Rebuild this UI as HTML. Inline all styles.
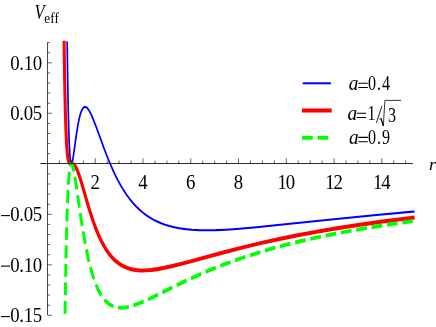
<!DOCTYPE html>
<html><head><meta charset="utf-8"><title>Veff</title>
<style>
html,body{margin:0;padding:0;background:#fff;}
body{width:436px;height:327px;overflow:hidden;}
svg{display:block;will-change:transform;}
text{font-family:"Liberation Serif",serif;fill:#000;}
</style></head><body>
<svg width="436" height="327" viewBox="0 0 436 327">
<g transform="scale(1,1.19)" fill="none" stroke-linejoin="round">
<path d="M67.17,34.79 L67.82,73.95 L68.44,99.84 L69.04,116.46 L69.59,126.64 L70.09,132.56 L70.54,135.70 L70.90,137.12 L71.19,137.64 L71.41,137.73 L71.67,137.54 L72.05,136.77 L72.62,134.79 L73.50,130.41 L76.69,111.36 L77.98,104.77 L79.10,100.07 L80.13,96.60 L81.06,94.12 L81.91,92.41 L82.71,91.22 L83.47,90.45 L84.19,90.02 L84.90,89.85 L85.61,89.92 L86.42,90.24 L87.31,90.89 L88.38,92.00 L89.63,93.68 L91.19,96.26 L93.15,100.05 L95.92,106.05 L104.30,125.32 L108.00,133.31 L111.35,140.00 L114.52,145.83 L117.59,151.02 L120.63,155.68 L123.62,159.86 L126.65,163.71 L129.68,167.18 L132.76,170.35 L135.93,173.28 L139.14,175.94 L142.44,178.36 L145.74,180.51 L149.18,182.49 L152.80,184.30 L156.61,185.96 L160.59,187.44 L164.94,188.80 L169.47,189.97 L174.36,190.99 L179.62,191.84 L185.42,192.54 L191.76,193.05 L198.82,193.38 L206.79,193.50 L215.85,193.38 L226.54,192.98 L239.59,192.24 L256.44,191.00 L282.71,188.75 L341.23,183.54 L376.38,180.63 L410.44,178.05 L414.61,177.75" stroke="#0000ff" stroke-width="1.7"/>
<line x1="302.7" y1="70.00" x2="330.9" y2="70.00" stroke="#0000ff" stroke-width="1.7"/>
</g>
<g transform="scale(1,1.32)" fill="none" stroke-linejoin="round">
<path d="M64.09,30.91 L64.72,62.82 L65.34,84.43 L65.95,98.96 L66.55,108.50 L67.13,114.69 L67.68,118.60 L68.22,121.04 L68.74,122.51 L69.24,123.37 L69.76,123.85 L70.36,124.10 L71.45,124.17 L72.62,124.25 L73.50,124.55 L74.38,125.11 L75.33,126.04 L76.38,127.45 L77.63,129.58 L79.19,132.80 L81.29,137.80 L88.65,156.98 L91.59,164.08 L94.22,169.86 L96.72,174.82 L99.13,179.11 L101.49,182.87 L103.86,186.21 L106.22,189.16 L108.63,191.80 L111.04,194.09 L113.49,196.12 L116.03,197.91 L118.67,199.48 L121.39,200.83 L124.24,201.98 L127.27,202.95 L130.49,203.72 L133.97,204.30 L137.76,204.69 L141.90,204.86 L146.46,204.80 L151.54,204.49 L157.51,203.88 L164.58,202.89 L173.46,201.38 L185.96,198.95 L225.09,190.88 L243.94,187.22 L261.69,184.00 L279.45,181.03 L297.75,178.21 L316.77,175.52 L336.88,172.93 L358.08,170.44 L380.73,168.04 L405.00,165.70 L414.61,164.84" stroke="#ff0000" stroke-width="3.07"/>
<path d="M65.06,237.65 L65.24,227.92 M65.33,223.68 L65.54,213.95 M65.63,209.71 L65.87,199.98 M65.98,195.74 L66.26,186.01 M66.39,181.77 L66.72,172.04 M66.87,167.80 L67.29,158.07 M67.49,153.84 L68.06,144.12 M68.37,139.89 L69.02,133.07 L69.39,130.20 M70.21,126.03 L70.66,124.83 L71.04,124.31 L71.36,124.17 L71.38,124.17 M71.38,124.17 L71.71,124.29 L72.15,124.81 L72.74,126.02 L73.52,128.41 L73.91,129.85 M74.89,133.99 L76.74,143.13 L76.82,143.57 M77.61,147.75 L79.43,157.34 M80.24,161.52 L82.17,171.10 M83.06,175.26 L85.17,184.32 L85.28,184.78 M86.34,188.91 L88.29,195.86 L89.05,198.34 M90.39,202.40 L92.26,207.44 L94.01,211.57 M95.90,215.45 L97.70,218.64 L99.53,221.43 L101.37,223.82 M104.44,227.02 L106.35,228.58 L108.32,229.89 L110.37,230.96 L112.51,231.82 L113.51,232.14 M118.10,233.01 L120.81,233.15 L123.75,233.05 L127.05,232.69 L128.84,232.41 M133.41,231.43 L138.25,230.11 L143.67,228.39 M148.06,226.87 L158.05,223.18 M162.38,221.53 L172.33,217.75 M176.67,216.12 L186.68,212.45 M191.05,210.90 L201.15,207.45 M205.56,206.00 L215.76,202.79 M220.22,201.45 L230.51,198.50 M235.01,197.26 L245.38,194.55 M249.91,193.42 L260.35,190.94 M264.91,189.90 L275.41,187.63 M279.99,186.68 L290.54,184.59 M295.14,183.73 L305.73,181.81 M310.35,181.01 L320.97,179.25 M325.60,178.52 L336.24,176.90 M340.88,176.22 L351.56,174.72 M356.20,174.10 L366.89,172.71 M371.55,172.13 L382.26,170.85 M386.92,170.31 L397.64,169.11 M402.30,168.61 L412.86,167.52" stroke="#00ff00" stroke-width="2.95"/>
<line x1="302" y1="83.71" x2="331.7" y2="83.71" stroke="#ff0000" stroke-width="3.07"/>
<line x1="302" y1="104.39" x2="312.8" y2="104.39" stroke="#00ff00" stroke-width="2.95"/>
<line x1="317.5" y1="104.39" x2="328.2" y2="104.39" stroke="#00ff00" stroke-width="2.95"/>
</g>
<g stroke-width="1" fill="none">
<line x1="40.34" y1="163.50" x2="412.86" y2="163.50" stroke="#2e2e2e"/>
<line x1="47.50" y1="42.30" x2="47.50" y2="315.00" stroke="#4a4a4a"/>
</g>
<g stroke="#000" stroke-width="0.6" fill="none">
<line x1="59.44" y1="163.50" x2="59.44" y2="160.50"/>
<line x1="71.38" y1="163.50" x2="71.38" y2="160.50"/>
<line x1="83.32" y1="163.50" x2="83.32" y2="160.50"/>
<line x1="95.26" y1="163.50" x2="95.26" y2="158.40"/>
<line x1="107.20" y1="163.50" x2="107.20" y2="160.50"/>
<line x1="119.14" y1="163.50" x2="119.14" y2="160.50"/>
<line x1="131.08" y1="163.50" x2="131.08" y2="160.50"/>
<line x1="143.02" y1="163.50" x2="143.02" y2="158.40"/>
<line x1="154.96" y1="163.50" x2="154.96" y2="160.50"/>
<line x1="166.90" y1="163.50" x2="166.90" y2="160.50"/>
<line x1="178.84" y1="163.50" x2="178.84" y2="160.50"/>
<line x1="190.78" y1="163.50" x2="190.78" y2="158.40"/>
<line x1="202.72" y1="163.50" x2="202.72" y2="160.50"/>
<line x1="214.66" y1="163.50" x2="214.66" y2="160.50"/>
<line x1="226.60" y1="163.50" x2="226.60" y2="160.50"/>
<line x1="238.54" y1="163.50" x2="238.54" y2="158.40"/>
<line x1="250.48" y1="163.50" x2="250.48" y2="160.50"/>
<line x1="262.42" y1="163.50" x2="262.42" y2="160.50"/>
<line x1="274.36" y1="163.50" x2="274.36" y2="160.50"/>
<line x1="286.30" y1="163.50" x2="286.30" y2="158.40"/>
<line x1="298.24" y1="163.50" x2="298.24" y2="160.50"/>
<line x1="310.18" y1="163.50" x2="310.18" y2="160.50"/>
<line x1="322.12" y1="163.50" x2="322.12" y2="160.50"/>
<line x1="334.06" y1="163.50" x2="334.06" y2="158.40"/>
<line x1="346.00" y1="163.50" x2="346.00" y2="160.50"/>
<line x1="357.94" y1="163.50" x2="357.94" y2="160.50"/>
<line x1="369.88" y1="163.50" x2="369.88" y2="160.50"/>
<line x1="381.82" y1="163.50" x2="381.82" y2="158.40"/>
<line x1="393.76" y1="163.50" x2="393.76" y2="160.50"/>
<line x1="405.70" y1="163.50" x2="405.70" y2="160.50"/>
<line x1="47.50" y1="315.30" x2="51.90" y2="315.30"/>
<line x1="47.50" y1="305.20" x2="50.20" y2="305.20"/>
<line x1="47.50" y1="295.10" x2="50.20" y2="295.10"/>
<line x1="47.50" y1="285.00" x2="50.20" y2="285.00"/>
<line x1="47.50" y1="274.90" x2="50.20" y2="274.90"/>
<line x1="47.50" y1="264.80" x2="51.90" y2="264.80"/>
<line x1="47.50" y1="254.70" x2="50.20" y2="254.70"/>
<line x1="47.50" y1="244.60" x2="50.20" y2="244.60"/>
<line x1="47.50" y1="234.50" x2="50.20" y2="234.50"/>
<line x1="47.50" y1="224.40" x2="50.20" y2="224.40"/>
<line x1="47.50" y1="214.30" x2="51.90" y2="214.30"/>
<line x1="47.50" y1="204.20" x2="50.20" y2="204.20"/>
<line x1="47.50" y1="194.10" x2="50.20" y2="194.10"/>
<line x1="47.50" y1="184.00" x2="50.20" y2="184.00"/>
<line x1="47.50" y1="173.90" x2="50.20" y2="173.90"/>
<line x1="47.50" y1="153.70" x2="50.20" y2="153.70"/>
<line x1="47.50" y1="143.60" x2="50.20" y2="143.60"/>
<line x1="47.50" y1="133.50" x2="50.20" y2="133.50"/>
<line x1="47.50" y1="123.40" x2="50.20" y2="123.40"/>
<line x1="47.50" y1="113.30" x2="51.90" y2="113.30"/>
<line x1="47.50" y1="103.20" x2="50.20" y2="103.20"/>
<line x1="47.50" y1="93.10" x2="50.20" y2="93.10"/>
<line x1="47.50" y1="83.00" x2="50.20" y2="83.00"/>
<line x1="47.50" y1="72.90" x2="50.20" y2="72.90"/>
<line x1="47.50" y1="62.80" x2="51.90" y2="62.80"/>
<line x1="47.50" y1="52.70" x2="50.20" y2="52.70"/>
<line x1="47.50" y1="42.60" x2="50.20" y2="42.60"/>
</g>
<g>
<text transform="translate(95.26,188.80) scale(1.0,1.12)" font-size="18.8" text-anchor="middle">2</text>
<text transform="translate(143.02,188.80) scale(1.0,1.12)" font-size="18.8" text-anchor="middle">4</text>
<text transform="translate(190.78,188.80) scale(1.0,1.12)" font-size="18.8" text-anchor="middle">6</text>
<text transform="translate(238.54,188.80) scale(1.0,1.12)" font-size="18.8" text-anchor="middle">8</text>
<text transform="translate(285.70,188.80) scale(1.0,1.12)" font-size="18.8" text-anchor="middle" letter-spacing="-1.1">10</text>
<text transform="translate(333.46,188.80) scale(1.0,1.12)" font-size="18.8" text-anchor="middle" letter-spacing="-1.1">12</text>
<text transform="translate(381.22,188.80) scale(1.0,1.12)" font-size="18.8" text-anchor="middle" letter-spacing="-1.1">14</text>
<text transform="translate(41.80,69.60) scale(1.0,1.17)" font-size="18.8" text-anchor="end" letter-spacing="-0.35">0.10</text>
<text transform="translate(41.80,120.10) scale(1.0,1.17)" font-size="18.8" text-anchor="end" letter-spacing="-0.35">0.05</text>
<text transform="translate(41.80,221.10) scale(1.0,1.17)" font-size="18.8" text-anchor="end" letter-spacing="-0.35">0.05</text>
<line x1="1.0" y1="215.60" x2="10.0" y2="215.60" stroke="#000" stroke-width="1.1"/>
<text transform="translate(41.80,271.60) scale(1.0,1.17)" font-size="18.8" text-anchor="end" letter-spacing="-0.35">0.10</text>
<line x1="1.0" y1="266.10" x2="10.0" y2="266.10" stroke="#000" stroke-width="1.1"/>
<text transform="translate(41.80,322.10) scale(1.0,1.17)" font-size="18.8" text-anchor="end" letter-spacing="-0.35">0.15</text>
<line x1="1.0" y1="316.60" x2="10.0" y2="316.60" stroke="#000" stroke-width="1.1"/>
<text transform="translate(34.60,19.30) scale(1.0,1.22)" font-size="16.6" text-anchor="start" font-style="italic">V</text>
<text transform="translate(44.30,22.60) scale(1.0,1.04)" font-size="13.3" text-anchor="start">eff</text>
<text transform="translate(428.90,170.30) scale(1.0,0.95)" font-size="18.0" text-anchor="start" font-style="italic">r</text>
<text transform="translate(348.80,90.00) scale(1.0,1.054)" font-size="19.3" text-anchor="start" font-style="italic">a</text>
<path d="M358.30,83.20 h9.5 M358.30,87.50 h9.5" stroke="#000" stroke-width="1.1" fill="none"/>
<text transform="translate(368.10,90.00) scale(1.0,1.352)" font-size="16.1" text-anchor="start" letter-spacing="0.95">0.4</text>
<text transform="translate(347.50,120.00) scale(1.0,1.054)" font-size="19.3" text-anchor="start" font-style="italic">a</text>
<path d="M356.60,113.20 h9.5 M356.60,117.50 h9.5" stroke="#000" stroke-width="1.1" fill="none"/>
<text transform="translate(367.60,120.00) scale(1.0,1.352)" font-size="16.1" text-anchor="start" letter-spacing="0.95">1</text>
<line x1="376.4" y1="122.8" x2="381.9" y2="106.2" stroke="#000" stroke-width="0.9"/>
<path d="M379.5,119.3 L381.0,118.3" fill="none" stroke="#000" stroke-width="0.8"/>
<path d="M380.9,118.2 L383.3,125.8" fill="none" stroke="#000" stroke-width="1.25"/>
<path d="M383.3,126.2 L384.9,100.4 L401.2,100.4" fill="none" stroke="#000" stroke-width="0.8"/>
<text transform="translate(387.90,121.80) scale(1.0,1.352)" font-size="16.1" text-anchor="start">3</text>
<text transform="translate(349.00,144.20) scale(1.0,1.054)" font-size="19.3" text-anchor="start" font-style="italic">a</text>
<path d="M358.30,137.40 h9.5 M358.30,141.70 h9.5" stroke="#000" stroke-width="1.1" fill="none"/>
<text transform="translate(368.10,144.20) scale(1.0,1.352)" font-size="16.1" text-anchor="start" letter-spacing="0.95">0.9</text>
</g>
</svg>
</body></html>
